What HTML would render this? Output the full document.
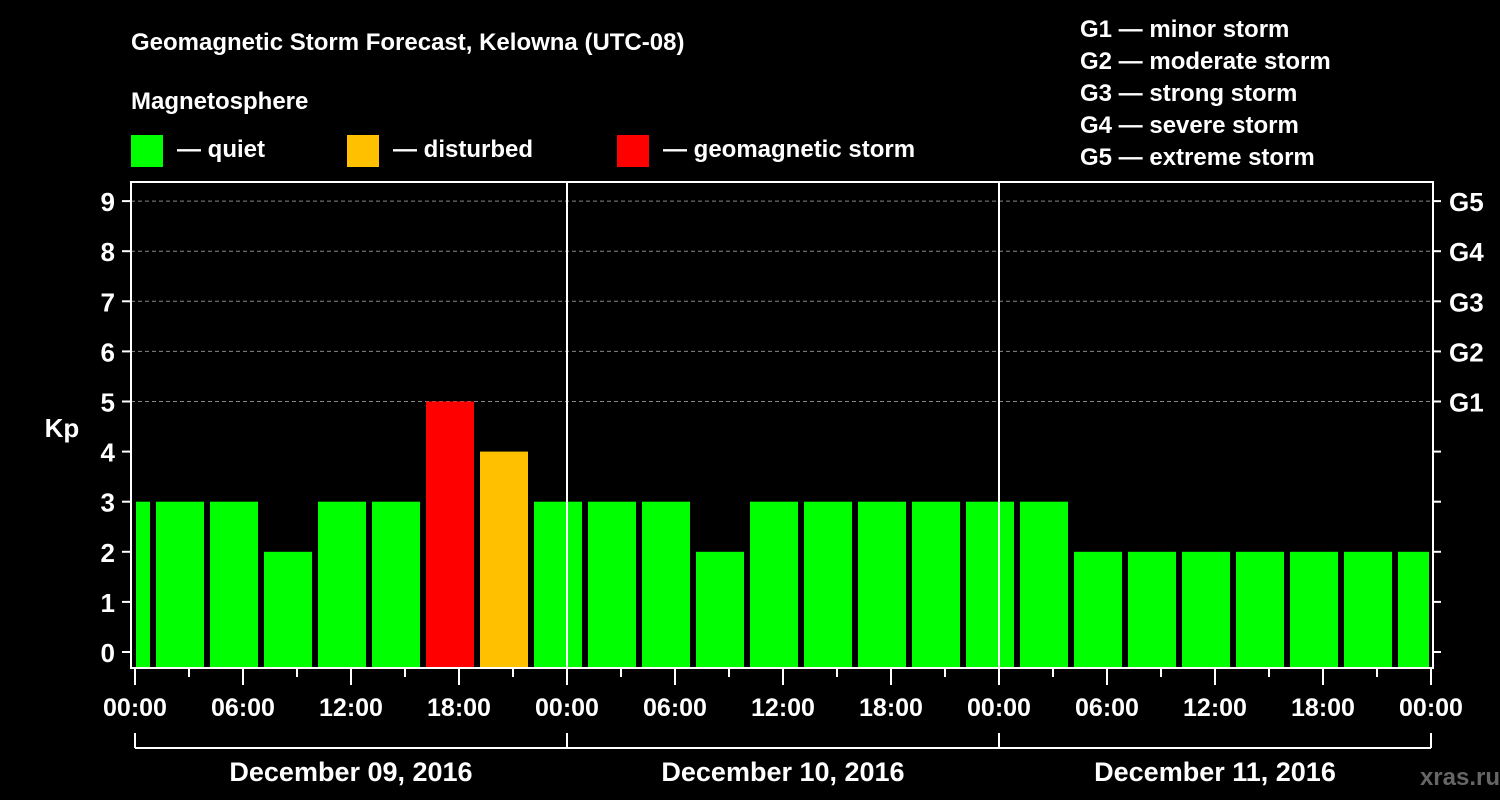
<!DOCTYPE html>
<html><head><meta charset="utf-8"><style>
html,body{margin:0;padding:0;background:#000;}
svg{display:block;font-family:"Liberation Sans",Arial,sans-serif;font-weight:bold;}
</style></head><body>
<svg id="chart" width="1500" height="800" viewBox="0 0 1500 800">
<rect width="1500" height="800" fill="#000"/>
<text x="131" y="50" fill="#fff" font-size="24">Geomagnetic Storm Forecast, Kelowna (UTC-08)</text>
<text x="131" y="109" fill="#fff" font-size="24">Magnetosphere</text>
<g><rect x="131" y="135" width="32" height="32" fill="#00ff00"/><text x="177" y="157" fill="#fff" font-size="24">— quiet</text></g>
<g><rect x="347" y="135" width="32" height="32" fill="#ffc000"/><text x="393" y="157" fill="#fff" font-size="24">— disturbed</text></g>
<g><rect x="617" y="135" width="32" height="32" fill="#ff0000"/><text x="663" y="157" fill="#fff" font-size="24">— geomagnetic storm</text></g>
<g fill="#fff" font-size="24">
<text x="1080" y="37">G1 — minor storm</text>
<text x="1080" y="69">G2 — moderate storm</text>
<text x="1080" y="101">G3 — strong storm</text>
<text x="1080" y="133">G4 — severe storm</text>
<text x="1080" y="165">G5 — extreme storm</text>
</g>
<text x="62" y="437" fill="#fff" font-size="26" text-anchor="middle">Kp</text>
<text x="1500" y="785" fill="#666" font-size="24" text-anchor="end">xras.ru</text>
<g id="grid"></g><g id="bars"></g><g id="axes"></g>
</svg>
<script>
const kpValues = [3,3,3,2,3,3,5,4,3,3,3,2,3,3,3,3,3,3,2,2,2,2,2,2,2];
const barStartHours = [-2,1,4,7,10,13,16,19,22,25,28,31,34,37,40,43,46,49,52,55,58,61,64,67,70];
const timeTickLabels = ["00:00","06:00","12:00","18:00","00:00","06:00","12:00","18:00","00:00","06:00","12:00","18:00","00:00"];
const dateLabels = ["December 09, 2016","December 10, 2016","December 11, 2016"];
const kpTicks = [0,1,2,3,4,5,6,7,8,9];
const gLabels = {5:"G1",6:"G2",7:"G3",8:"G4",9:"G5"};

const NS="http://www.w3.org/2000/svg";
const X0=135, PXH=18, Y0=652, PYK=50.1;
const L=131, R=1433, T=182, B=668;
const xs=h=>X0+h*PXH, ys=k=>Y0-k*PYK;
function mk(tag,attrs,parent){const e=document.createElementNS(NS,tag);for(const k in attrs)e.setAttribute(k,attrs[k]);parent.appendChild(e);return e;}
const grid=document.getElementById('grid'),bars=document.getElementById('bars'),axes=document.getElementById('axes');
function color(v){return v>=5?"#ff0000":v>=4?"#ffc000":"#00ff00";}
kpValues.forEach((v,i)=>{
  let x1=Math.max(xs(barStartHours[i])+3,X0+1), x2=Math.min(xs(barStartHours[i]+3)-3,R-4);
  const r=mk('rect',{x:x1,y:ys(v),width:x2-x1,height:B-ys(v),fill:color(v)},bars);
  
  
});
kpTicks.forEach(k=>{
  const y=ys(k);
  if(gLabels[k]){const g=mk('line',{x1:L,x2:R,y1:y,y2:y,stroke:'#888','stroke-dasharray':'4,3','stroke-width':1},grid);
    
    
    const t=mk('text',{x:1449,y:y+10,fill:'#fff','font-size':26},axes);t.textContent=gLabels[k];
    
    }
  mk('line',{x1:L-9,x2:L,y1:y,y2:y,stroke:'#fff','stroke-width':2},axes);
  mk('line',{x1:R,x2:R+8,y1:y,y2:y,stroke:'#fff','stroke-width':2},axes);
  const t=mk('text',{x:115,y:y+10,fill:'#fff','font-size':26,'text-anchor':'end'},axes);t.textContent=k;
  
  
});
const fr=mk('rect',{x:L,y:T,width:R-L,height:B-T,fill:'none',stroke:'#fff','stroke-width':2},axes);


[24,48].forEach(h=>{const l=mk('line',{x1:xs(h),x2:xs(h),y1:T,y2:B,stroke:'#fff','stroke-width':2},axes);
  
  });
for(let h=0;h<=72;h+=3){mk('line',{x1:xs(h),x2:xs(h),y1:B,y2:h%6==0?685:677,stroke:'#fff','stroke-width':2},axes);}
timeTickLabels.forEach((s,i)=>{const t=mk('text',{x:xs(i*6),y:716,fill:'#fff','font-size':25,'text-anchor':'middle'},axes);t.textContent=s;
  
  });
mk('line',{x1:xs(0),x2:xs(72),y1:748,y2:748,stroke:'#fff','stroke-width':2},axes);
[0,24,48,72].forEach(h=>mk('line',{x1:xs(h),x2:xs(h),y1:733,y2:748,stroke:'#fff','stroke-width':2},axes));
dateLabels.forEach((s,i)=>{const t=mk('text',{x:xs(i*24+12),y:781,fill:'#fff','font-size':27,'text-anchor':'middle'},axes);t.textContent=s;
  
  });
</script>
</body></html>
